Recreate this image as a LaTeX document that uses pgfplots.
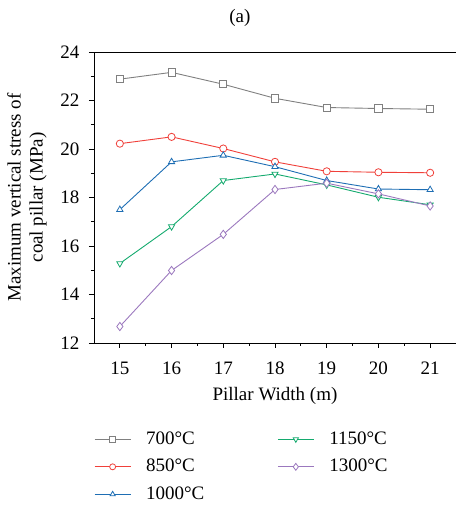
\documentclass[border=0pt]{standalone}
\usepackage{pgfplots}
\pgfplotsset{compat=1.18}
\usepackage{fontspec}
\setmainfont{Liberation Serif}
\definecolor{c700}{RGB}{128,128,128}
\definecolor{c850}{RGB}{240,64,58}
\definecolor{c1000}{RGB}{30,110,180}
\definecolor{c1150}{RGB}{20,170,110}
\definecolor{c1300}{RGB}{155,120,190}
\begin{document}
\fontsize{19}{22}\selectfont
\begin{tikzpicture}
\path[use as bounding box] (-94pt,-167pt) rectangle (362pt,343pt);
\begin{axis}[
  at={(0pt,0pt)}, anchor=south west,
  scale only axis, width=362pt, height=291pt,
  xmin=14.5, xmax=21.5, ymin=12, ymax=24,
  axis x line*=bottom, axis y line*=left,
  axis line style={line width=0.9pt},
  xtick={15,...,21}, ytick={12,14,...,24},
  minor x tick num=1, minor y tick num=1,
  tick align=outside,
  major tick length=5pt, minor tick length=3pt,
  tick style={line width=0.8pt, black},
  /pgf/number format/assume math mode=true,
  ticklabel style={font=\fontsize{19}{22}\selectfont},
  xticklabel style={yshift=-7pt},
  yticklabel style={xshift=-3pt},
  xlabel={Pillar Width (m)},
  xlabel style={font=\fontsize{19}{22}\selectfont, at={(axis description cs:0.5,0)}, anchor=center, yshift=-53pt},
  ylabel={Maximum vertical stress of\\coal pillar (MPa)},
  ylabel style={font=\fontsize{19}{22}\selectfont, align=center, at={(axis description cs:0,0.5)}, anchor=center, yshift=67pt},
  every axis plot/.append style={line width=0.9pt},
  mark size=3.6pt,
  legend style={draw=none, fill=none, at={(0,-0.29)}, anchor=north west,
    font=\fontsize{19}{22}\selectfont, inner xsep=0pt,
    /tikz/every even column/.append style={column sep=71pt},
    /tikz/every odd column/.append style={column sep=13pt},
    row sep=8pt},
  legend cell align=left,
  legend columns=3, transpose legend,
  legend image code/.code={\draw[mark repeat=2,mark phase=2, mark size=3pt] plot coordinates {(0pt,0pt)(18pt,0pt)(36pt,0pt)};},
]
\draw[line width=0.9pt] (rel axis cs:0,1) -- (rel axis cs:1,1);
\addplot[color=c700, mark=square*, mark options={solid, fill=white, line width=0.8pt}] coordinates {(15,22.88)(16,23.16)(17,22.67)(18,22.09)(19,21.71)(20,21.67)(21,21.64)};
\addlegendentry{700°C}
\addplot[color=c850, mark=*, mark options={solid, fill=white, line width=0.8pt}] coordinates {(15,20.22)(16,20.50)(17,20.02)(18,19.47)(19,19.08)(20,19.04)(21,19.02)};
\addlegendentry{850°C}
\addplot[color=c1000, mark=triangle*, mark options={solid, fill=white, line width=0.8pt}] coordinates {(15,17.50)(16,19.47)(17,19.74)(18,19.27)(19,18.70)(20,18.35)(21,18.32)};
\addlegendentry{1000°C}
\addplot[color=c1150, mark=triangle*, mark options={solid, fill=white, line width=0.8pt, rotate=180}] coordinates {(15,15.28)(16,16.80)(17,18.70)(18,18.97)(19,18.52)(20,18.01)(21,17.70)};
\addlegendentry{1150°C}
\addplot[color=c1300, mark=diamond*, mark options={solid, fill=white, line width=0.8pt, scale=1.15}] coordinates {(15,12.68)(16,14.99)(17,16.48)(18,18.33)(19,18.59)(20,18.15)(21,17.65)};
\addlegendentry{1300°C}
\end{axis}
\node at (0.403*362pt, 325pt) {(a)};
\end{tikzpicture}
\end{document}
